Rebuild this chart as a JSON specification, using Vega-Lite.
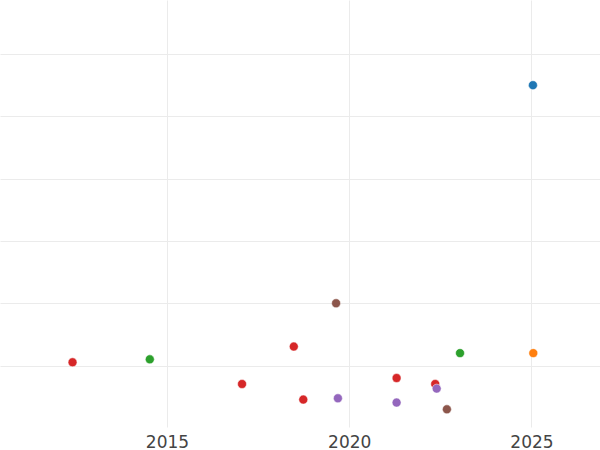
{
  "$schema": "https://vega.github.io/schema/vega-lite/v6.json",
  "width": 600,
  "height": 427,
  "autosize": {"type": "none"},
  "padding": {"top": 0, "left": 0, "right": 0, "bottom": 23},
  "background": "white",
  "config": {"view": {"stroke": null}},
  "data": {"values": [
    {"year": 2025.04, "value": 5.50, "group": "A"},
    {"year": 2019.64, "value": 2.00, "group": "F"},
    {"year": 2014.53, "value": 1.10, "group": "C"},
    {"year": 2012.41, "value": 1.053, "group": "D"},
    {"year": 2017.06, "value": 0.704, "group": "D"},
    {"year": 2018.48, "value": 1.305, "group": "D"},
    {"year": 2018.74, "value": 0.454, "group": "D"},
    {"year": 2019.69, "value": 0.475, "group": "E"},
    {"year": 2021.30, "value": 0.80, "group": "D"},
    {"year": 2021.30, "value": 0.406, "group": "E"},
    {"year": 2022.36, "value": 0.704, "group": "D"},
    {"year": 2022.40, "value": 0.63, "group": "E"},
    {"year": 2022.68, "value": 0.298, "group": "F"},
    {"year": 2023.04, "value": 1.20, "group": "C"},
    {"year": 2025.05, "value": 1.20, "group": "B"}
  ]},
  "mark": {"type": "point", "filled": true, "opacity": 1, "size": 80, "stroke": "white", "strokeWidth": 0.5},
  "encoding": {
    "x": {
      "field": "year", "type": "quantitative",
      "scale": {"domain": [2010.42, 2026.88], "nice": false, "zero": false},
      "axis": {"values": [2015, 2020, 2025], "title": null, "domain": false, "ticks": false,
               "labelPadding": 7, "labelFontSize": 17, "labelFont": "DejaVu Sans", "labelColor": "#444444",
               "gridColor": "#ebebeb", "gridWidth": 1, "format": "d", "labelFlush": false}
    },
    "y": {
      "field": "value", "type": "quantitative",
      "scale": {"domain": [0.014, 6.867], "nice": false, "zero": false},
      "axis": {"values": [1, 2, 3, 4, 5, 6], "title": null, "domain": false, "ticks": false, "labels": false,
               "gridColor": "#ebebeb", "gridWidth": 1}
    },
    "color": {
      "field": "group", "type": "nominal",
      "scale": {"domain": ["A", "B", "C", "D", "E", "F"],
                "range": ["#1f77b4", "#ff7f0e", "#2ca02c", "#d62728", "#9467bd", "#8c564b"]},
      "legend": null
    }
  }
}
